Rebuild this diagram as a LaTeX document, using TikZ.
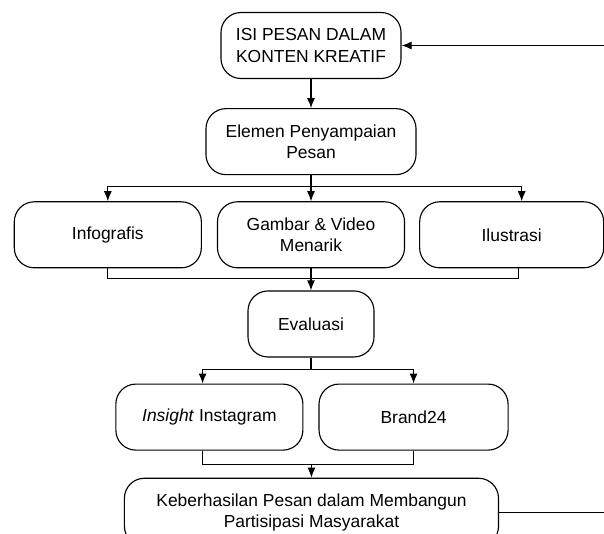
\documentclass[tikz,border=0pt]{standalone}
\usepackage{fontspec}
\setmainfont{Liberation Sans}
\usepackage{tikz}
\usetikzlibrary{arrows.meta, positioning}
\tikzstyle{block} = [draw, fill=white, rectangle, rounded corners=0.5cm, align=center, minimum height=1.65cm, inner sep=2pt, font=\fontsize{12.4}{15}\selectfont]

\begin{document}
\begin{tikzpicture}[x=0.025cm, y=-0.025cm, >={Latex[length=2.5mm,width=2mm]}, line width=0.8pt]
    \clip (0,0) rectangle (604,533);
    \node [block, minimum width=4.5cm] (isi) at (311,45.5) {ISI PESAN DALAM\\KONTEN KREATIF};
    \node [block, minimum width=5.25cm, below=0.725cm of isi] (elemen) {Elemen Penyampaian\\Pesan};
    \node [block, minimum width=4.675cm, below=0.65cm of elemen] (gambar) {Gambar \& Video\\Menarik};
    \node [block, minimum width=4.675cm, left=0.375cm of gambar] (info) {Infografis};
    \node [block, minimum width=4.6cm, right=0.35cm of gambar] (ilus) {Ilustrasi};
    \node [block, minimum width=3.15cm, below=0.55cm of gambar] (evaluasi) {Evaluasi};
    \node [block, minimum width=4.675cm, below=0.65cm of evaluasi, xshift=-2.54cm] (insight) {\textit{Insight} Instagram};
    \node [block, minimum width=4.725cm, right=0.375cm of insight] (brand) {Brand24};
    \path (insight.south) -- (brand.south) coordinate [midway] (mid2);
    \node [block, minimum width=9.35cm, minimum height=1.7cm, below=0.675cm of mid2] (keb) {Keberhasilan Pesan dalam Membangun\\Partisipasi Masyarakat};
    \coordinate (edge) at (604,0);

    \draw [->] (isi) -- (elemen);
    \draw [->] (elemen.south) -- ++(0,11) -| (info.north);
    \draw [->] (elemen) -- (gambar);
    \draw [->] (elemen.south) -- ++(0,11) -| ([xshift=0.25cm]ilus.north);
    \draw (info.south) -- ++(0,10) -| ([xshift=0.175cm]ilus.south);
    \draw [->] (gambar) -- (evaluasi);
    \draw [->] (evaluasi.south) -- ++(0,12) -| ([xshift=-0.17cm]insight.north);
    \draw [->] (evaluasi.south) -- ++(0,12) -| (brand.north);
    \draw ([xshift=-0.17cm]insight.south) -- ++(0,14) -| (brand.south);
    \draw [->] (mid2) ++(0,14) -- (keb);
    \draw (keb.east) -- (keb.east -| edge);
    \draw [->] (isi.east -| edge) -- (isi.east);
\end{tikzpicture}
\end{document}
